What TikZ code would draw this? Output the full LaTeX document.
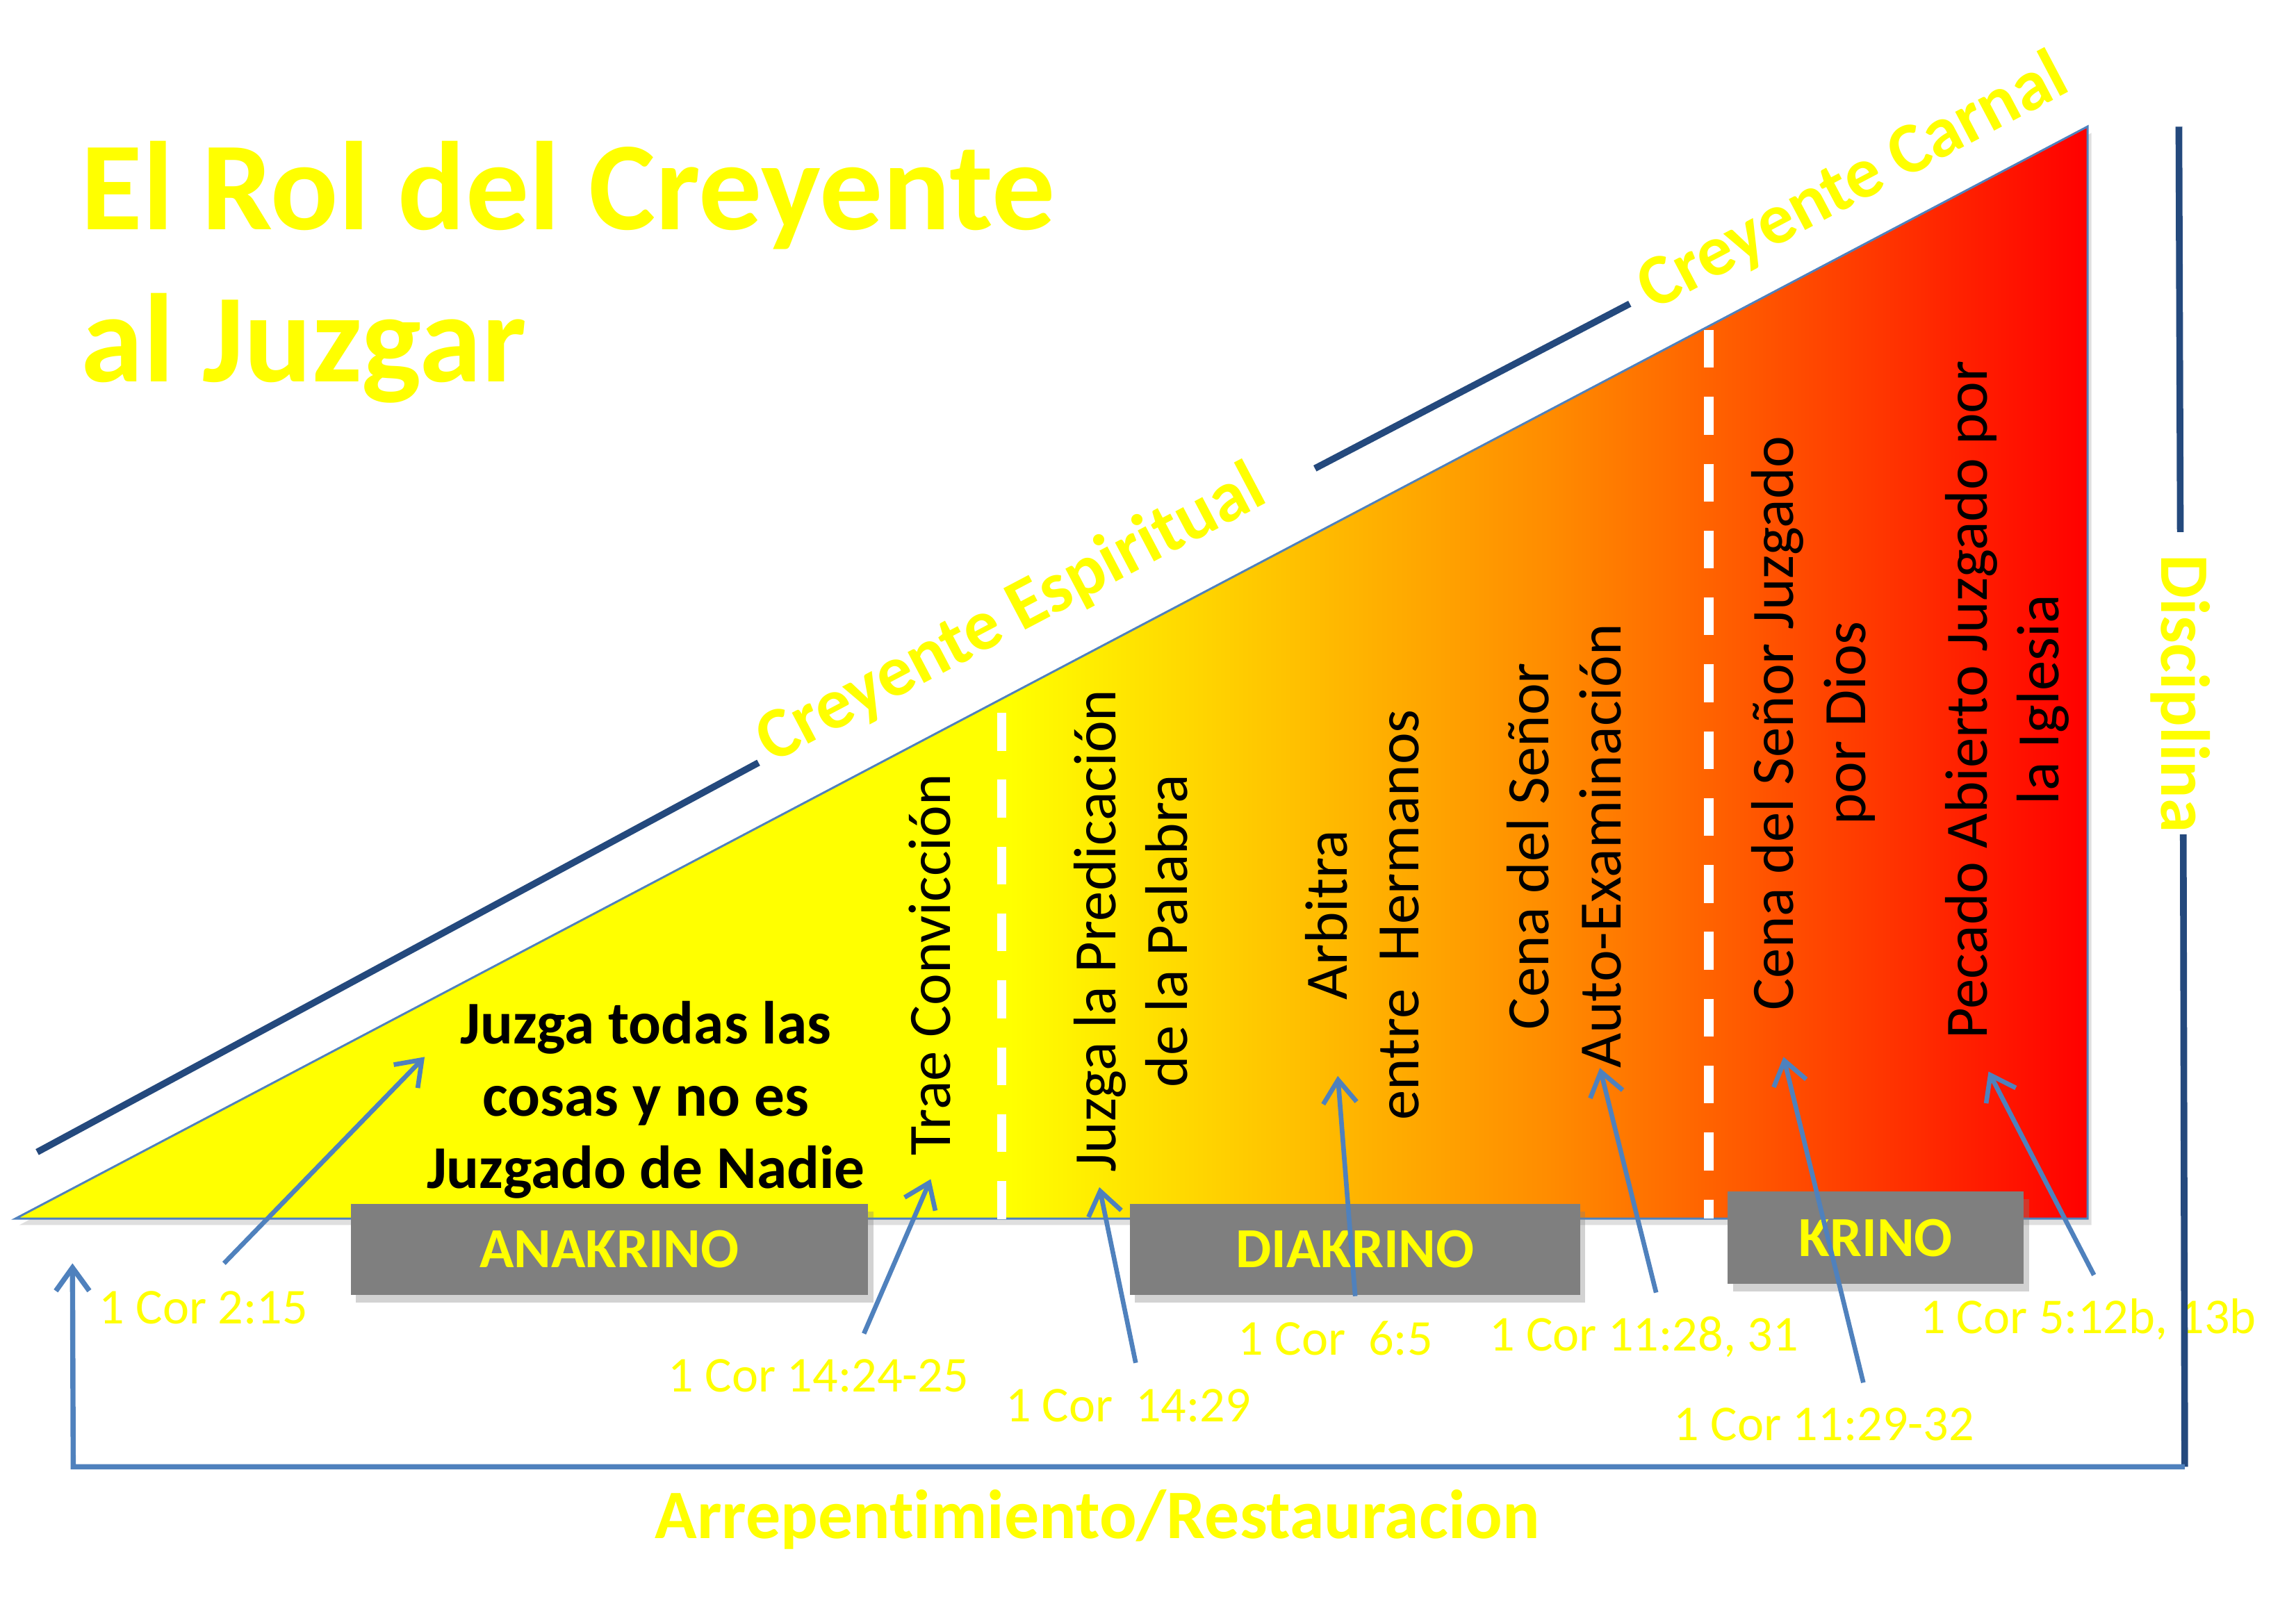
\documentclass[tikz,border=0pt]{standalone}
\usepackage{fontspec}
\setmainfont{Carlito}[Ligatures=NoCommon]
\usetikzlibrary{arrows.meta,shadows}
\definecolor{yel}{HTML}{FFFF00}
\definecolor{navy}{HTML}{24497D}
\definecolor{lblue}{HTML}{4F81BD}
\definecolor{boxgray}{HTML}{7F7F7F}
\definecolor{c55}{HTML}{FFC800}
\definecolor{midor}{HTML}{FF8C00}
\definecolor{redend}{HTML}{FF0000}
\pgfdeclarehorizontalshading{trishade}{100bp}{color(0bp)=(yel); color(25bp)=(yel); color(49bp)=(yel); color(55bp)=(c55); color(62bp)=(midor); color(75bp)=(redend); color(100bp)=(redend)}
\tikzset{
  tri/.style={shade, shading=trishade, draw=lblue, line width=0.8pt,
    drop shadow={shadow xshift=1.5pt, shadow yshift=-2.5pt, opacity=0.25}},
  sepline/.style={white, line width=3.6pt, dash pattern=on 14.7pt off 11.3pt},
  navyline/.style={navy, line width=2.6pt},
  refarrow/.style={lblue, line width=1.8pt, -{Straight Barb[length=9pt,width=13pt]}},
  grbox/.style={fill=boxgray, draw=none, text=yel, inner sep=0pt,
    font=\fontsize{22}{26}\selectfont\bfseries,
    drop shadow={shadow xshift=2pt, shadow yshift=-3pt, opacity=0.35}},
  vtext/.style={rotate=90, align=center, inner sep=0pt, anchor=base,
    font=\fontsize{23.4}{28}\selectfont},
  reftext/.style={text=yel, inner sep=0pt, anchor=base,
    font=\fontsize{19.5}{23}\selectfont},
  slanttext/.style={text=yel, inner sep=0pt, anchor=base, rotate=27.8,
    font=\fontsize{28}{32}\selectfont\bfseries},
}
\begin{document}
\begin{tikzpicture}[x=0.2mm,y=-0.2mm]
\useasboundingbox (0,0) rectangle (1568,1094);
\fill[white] (0,0) rectangle (1568,1094);

% triangle
\coordinate (A) at (10.5,832.5);
\coordinate (B) at (1425.7,86.4);
\coordinate (C) at (1425.7,832.5);
\path[tri] (A) -- (B) -- (C) -- cycle;

% dashed separators
\coordinate (d1t) at (684,487);
\coordinate (d1b) at (684,833);
\coordinate (d2t) at (1167,225.4);
\coordinate (d2b) at (1167,832.5);
\draw[sepline] (d1t) -- (d1b);
\draw[sepline] (d2t) -- (d2b);

% navy slanted lines
\coordinate (s1a) at (25.4,787);
\coordinate (s1b) at (518,521);
\coordinate (s2a) at (898,320);
\coordinate (s2b) at (1113,207.5);
\draw[navyline] (s1a) -- (s1b);
\draw[navyline] (s2a) -- (s2b);

% title (anchor base = last line)
\node[text=yel, inner sep=0pt, anchor=base west, align=left,
  font=\fontsize{49}{59.4}\selectfont\bfseries] (title) at (55,261)
  {El Rol del Creyente\\al Juzgar};

% slanted labels
\node[slanttext] (espiritual) at (697,432) {Creyente Espiritual};
\node[slanttext] (carnal) at (1272,137) {Creyente Carnal};

% main texts (anchor base = last line)
\node[inner sep=0pt, anchor=base, align=center,
  font=\fontsize{23.6}{28}\selectfont\bfseries] (juzga) at (441,811.6)
  {Juzga todas las\\cosas y no es\\Juzgado de Nadie};
\node[vtext] (trae) at (649,659) {Trae Convicción};
\node[vtext] (pred) at (811,636) {Juzga la Predicación\\de la Palabra};
\node[vtext] (arb) at (969,625) {Arbitra\\entre\ \ Hermanos};
\node[vtext] (cena) at (1107,578) {Cena del Señor\\Auto-Examinación};
\node[vtext] (cenaj) at (1274,494) {Cena del Señor Juzgado\\por Dios};
\node[vtext] (pecado) at (1406,478) {Pecado Abierto Juzgado por\\la Iglesia};

% gray boxes
\node[grbox, minimum width=70.7mm, minimum height=12.5mm] (anakrino) at (416.2,853.5) {ANAKRINO};
\node[grbox, minimum width=61.5mm, minimum height=12.5mm] (diakrino) at (925.4,853.5) {DIAKRINO};
\node[grbox, minimum width=40.4mm, minimum height=12.6mm] (krino) at (1281,845.5) {KRINO};

% references
\node[reftext] (r1) at (139,904.5) {1 Cor 2:15};
\node[reftext] (r2) at (559,951) {1 Cor 14:24-25};
\node[reftext] (r3) at (770.5,971) {1 Cor\ \ 14:29};
\node[reftext] (r4) at (912,925.5) {1 Cor\ \ 6:5};
\node[reftext] (r5) at (1122.6,923) {1 Cor 11:28, 31};
\node[reftext] (r6) at (1245.7,984) {1 Cor 11:29-32};
\node[reftext] (r7) at (1426,910.8) {1 Cor 5:12b, 13b};

% arrows
\coordinate (a1t) at (153,863);   \coordinate (a1h) at (290,722);
\coordinate (a2t) at (590,911);   \coordinate (a2h) at (635.6,805.5);
\coordinate (a3t) at (775.6,931); \coordinate (a3h) at (750.8,811);
\coordinate (a4t) at (925.5,885.4); \coordinate (a4h) at (913.6,735);
\coordinate (a5t) at (1131,883);  \coordinate (a5h) at (1092.6,729.5);
\coordinate (a6t) at (1272.5,944.5); \coordinate (a6h) at (1218,722);
\coordinate (a7t) at (1430,871);  \coordinate (a7h) at (1358,732);
\draw[refarrow] (a1t) -- (a1h);
\draw[refarrow] (a2t) -- (a2h);
\draw[refarrow] (a3t) -- (a3h);
\draw[refarrow] (a4t) -- (a4h);
\draw[refarrow] (a5t) -- (a5h);
\draw[refarrow] (a6t) -- (a6h);
\draw[refarrow] (a7t) -- (a7h);

% discipline / restoration loop
\node[text=yel, inner sep=0pt, anchor=base, rotate=-90,
  font=\fontsize{27}{32}\selectfont\bfseries] (disc) at (1476,474) {Disciplina};
\coordinate (v1t) at (1488,86.5);
\coordinate (v1b) at (1489,363.5);
\coordinate (v2t) at (1491,570);
\coordinate (corner) at (1492,1002);
\coordinate (lb) at (50,1002);
\coordinate (lt) at (49.5,863);
\draw[navyline] (v1t) -- (v1b);
\draw[navyline] (v2t) -- (corner);
\draw[lblue, line width=2pt, -{Straight Barb[length=9pt,width=13pt]}] (corner) -- (lb) -- (lt);
\node[text=yel, inner sep=0pt, anchor=base,
  font=\fontsize{27}{32}\selectfont\bfseries] (rest) at (749.5,1051) {Arrepentimiento/Restauracion};
\end{tikzpicture}
\end{document}
